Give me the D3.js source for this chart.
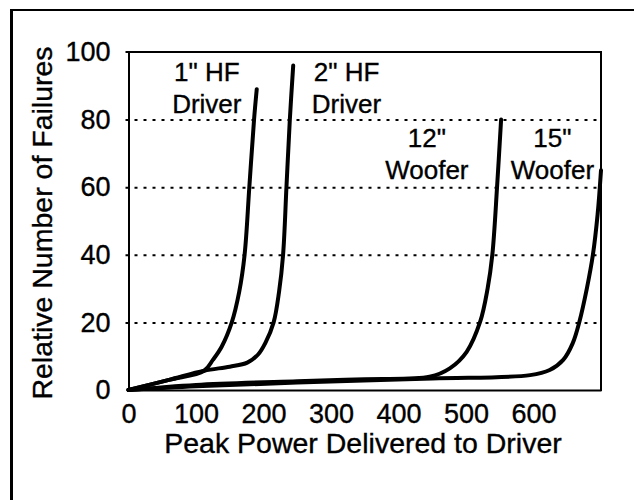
<!DOCTYPE html>
<html>
<head>
<meta charset="utf-8">
<script src="https://cdn.jsdelivr.net/npm/d3@7"></script>
<style>
  body { margin: 0; background: #fff; }
  svg { display: block; }
  text { font-family: "Liberation Sans", Arial, Helvetica, sans-serif; fill: #000; stroke: #000; stroke-width: 0.35px; }
</style>
</head>
<body>
<div class="chart"></div>
<script>
// values (power in W, relative failures)
const hf1Power = [0, 60, 112, 125, 138, 153, 164, 172, 179, 186, 190];
const hf1Fail  = [0, 3, 5.7, 8.9, 12.8, 20, 29, 40, 60, 80, 89];

const hf2Power = [0, 60, 112, 150, 176, 192, 203, 215, 223, 229, 234, 239, 244];
const hf2Fail  = [0, 3, 5.7, 6.9, 8.1, 10.5, 14, 20, 29, 40, 60, 80, 96];

const w12Power = [0, 100, 250, 350, 446, 476, 501, 521, 532, 539, 546, 552];
const w12Fail  = [0, 1.5, 2.6, 3.2, 3.9, 6.4, 11.3, 20.2, 30, 40, 60, 80];

const w15Power = [0, 100, 250, 450, 595, 624, 644, 658, 668, 679, 688, 695, 700];
const w15Fail  = [0, 1.1, 2.2, 3.4, 4.4, 5.9, 8.9, 13.8, 20.2, 30, 40, 52, 65];

const xTicks = [0, 100, 200, 300, 400, 500, 600];
const yTicks = [0, 20, 40, 60, 80, 100];
const gridTicks = [20, 40, 60, 80];

const labelNames = [['1" HF', 'Driver'], ['2" HF', 'Driver'], ['12"', 'Woofer'], ['15"', 'Woofer']];
const labelPower = [116, 323, 442, 628];   // centre of each label, in power units
const labelFail  = [91.5, 91.5, 72, 72];  // baseline of first line, in failure units

var W = 634, H = 500;
var plotL = 128.5, plotR = 601, plotT = 52, plotB = 390;

var svg = d3.select(".chart").append("svg")
  .attr("width", W)
  .attr("height", H);

// outer frame (only top and left are visible in the picture)
svg.append("line").attr("x1", 10).attr("x2", W).attr("y1", 10).attr("y2", 10)
  .attr("stroke", "#000").attr("stroke-width", 2);
svg.append("line").attr("x1", 11.5).attr("x2", 11.5).attr("y1", 9).attr("y2", H)
  .attr("stroke", "#000").attr("stroke-width", 3);

var x = d3.scaleLinear().domain([0, 700]).range([plotL, plotR]);
var y = d3.scaleLinear().domain([0, 100]).range([plotB, plotT]);

// dotted grid
svg.append("g")
  .attr("transform", "translate(" + (plotL - 3) + ",0)")
  .call(d3.axisLeft(y).tickValues(gridTicks).tickSize(-(plotR - plotL + 3)).tickFormat(""))
  .call(g => g.select(".domain").remove())
  .selectAll("line")
  .attr("stroke", "#000")
  .attr("stroke-width", 2)
  .attr("stroke-dasharray", "3,6");

// plot box
svg.append("line").attr("x1", plotL - 3).attr("x2", plotR + 1).attr("y1", plotT).attr("y2", plotT)
  .attr("stroke", "#000").attr("stroke-width", 2);
svg.append("line").attr("x1", plotR).attr("x2", plotR).attr("y1", plotT).attr("y2", plotB + 1)
  .attr("stroke", "#000").attr("stroke-width", 2);

// axes
var yAxis = svg.append("g")
  .attr("transform", "translate(" + plotL + ",0)")
  .call(d3.axisLeft(y).tickValues(yTicks).tickSize(0).tickPadding(18));
yAxis.select(".domain").attr("stroke-width", 2);
yAxis.selectAll("text").style("font-size", "27px").attr("font-family", null);

var xAxis = svg.append("g")
  .attr("transform", "translate(0," + plotB + ")")
  .call(d3.axisBottom(x).tickValues(xTicks).tickSize(0).tickPadding(14));
xAxis.select(".domain").attr("stroke-width", 2);
xAxis.selectAll("text").style("font-size", "27px").attr("font-family", null);

// axis titles
svg.append("text")
  .attr("x", 363).attr("y", 453)
  .attr("text-anchor", "middle")
  .style("font-size", "28.5px")
  .text("Peak Power Delivered to Driver");

svg.append("text")
  .attr("transform", "translate(52,223) rotate(-90)")
  .attr("text-anchor", "middle")
  .style("font-size", "28.5px")
  .text("Relative Number of Failures");

// failure curves
var series = [
  [hf1Power, hf1Fail],
  [hf2Power, hf2Fail],
  [w12Power, w12Fail],
  [w15Power, w15Fail]
];

var line = d3.line()
  .x(d => x(d[0]))
  .y(d => y(d[1]))
  .curve(d3.curveCatmullRom.alpha(0.5));

svg.append("g").selectAll("path")
  .data(series.map(s => s[0].map((p, i) => [p, s[1][i]])))
  .enter().append("path")
  .attr("d", line)
  .attr("fill", "none")
  .attr("stroke", "#000")
  .attr("stroke-width", 4)
  .attr("stroke-linejoin", "round")
  .attr("stroke-linecap", "round");

// curve labels
var labels = svg.append("g").selectAll("text")
  .data(labelNames)
  .enter().append("text")
  .attr("text-anchor", "middle")
  .style("font-size", "26px");

labels.each(function(d, i) {
  var t = d3.select(this);
  t.append("tspan").attr("x", x(labelPower[i])).attr("y", y(labelFail[i])).text(d[0]);
  t.append("tspan").attr("x", x(labelPower[i])).attr("dy", 32).text(d[1]);
});
</script>
</body>
</html>
